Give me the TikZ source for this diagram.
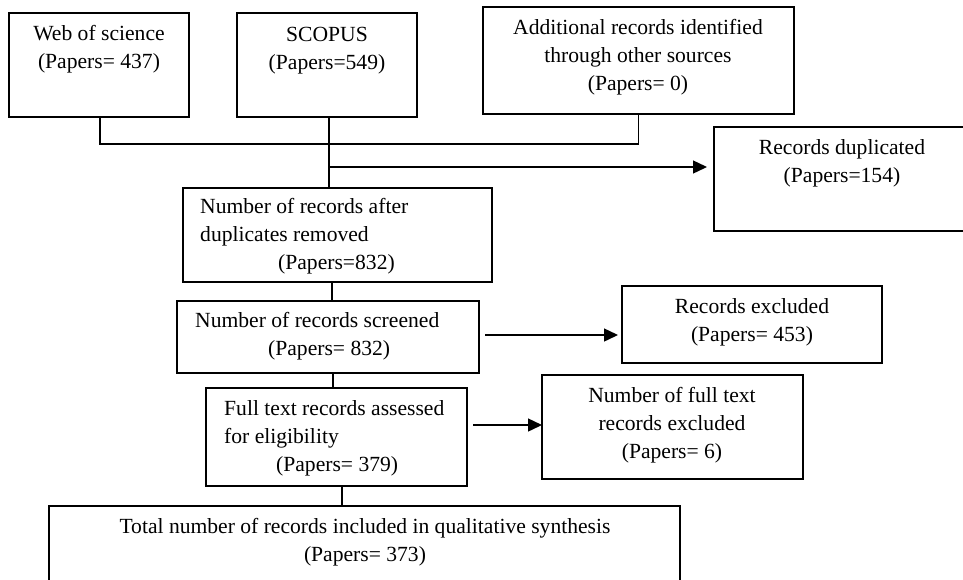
\documentclass[tikz,border=0pt]{standalone}
\usepackage{fontspec}
\setmainfont{Liberation Serif}
\usetikzlibrary{arrows.meta}
\tikzset{
  box/.style={draw, line width=1.4pt, inner sep=0pt, outer sep=0pt},
  txt/.style={inner sep=0pt, font=\fontsize{21.6}{28}\selectfont},
  ctxt/.style={txt, anchor=north, align=center},
  ltxt/.style={txt, anchor=north west, align=left},
  link/.style={line width=1.4pt},
  arr/.style={line width=1.4pt, -{Triangle[length=14pt,width=13pt]}}
}
\begin{document}
\begin{tikzpicture}[x=1pt,y=-1pt]
\useasboundingbox (0,0) rectangle (963,579);
% boxes
\node[box, minimum width=180pt, minimum height=104pt] (wos) at (99,65) {};
\node[box, minimum width=180pt, minimum height=104pt] (scopus) at (327,65) {};
\node[box, minimum width=311pt, minimum height=107pt] (add) at (638.5,60.5) {};
\node[box, minimum width=300pt, minimum height=104pt] (dup) at (864,179) {};
\node[box, minimum width=309pt, minimum height=94pt] (after) at (337.5,235) {};
\node[box, minimum width=302pt, minimum height=72pt] (screen) at (328,337) {};
\node[box, minimum width=261pt, minimum height=98pt] (full) at (336.5,437) {};
\node[box, minimum width=631pt, minimum height=110pt] (total) at (364.5,561) {};
\node[box, minimum width=260pt, minimum height=77pt] (excl) at (752,324.5) {};
\node[box, minimum width=261pt, minimum height=104pt] (fullex) at (672.5,427) {};
% texts
\node[ctxt] (twos) at (99,20.4) {\strut Web of science\\(Papers= 437)};
\node[ctxt] (tscopus) at (327,21.9) {\strut SCOPUS\\(Papers=549)};
\node[ctxt] (tadd) at (638,14.4) {\strut Additional records identified\\through other sources\\(Papers= 0)};
\node[ctxt] (tdup) at (842,134.4) {\strut Records duplicated\\(Papers=154)};
\node[ltxt] (tafter) at (200,193.4) {\strut Number of records after\\duplicates removed\\\hspace*{78pt}(Papers=832)};
\node[ltxt] (tscreen) at (195,307.4) {\strut Number of records screened\\\hspace*{73pt}(Papers= 832)};
\node[ltxt] (tfull) at (224,395.4) {\strut Full text records assessed\\for eligibility\\\hspace*{52pt}(Papers= 379)};
\node[ctxt] (texcl) at (752,293.4) {\strut Records excluded\\(Papers= 453)};
\node[ctxt] (tfullex) at (672,382.4) {\strut Number of full text\\records excluded\\(Papers= 6)};
\node[ctxt] (ttotal) at (365,513.4) {\strut Total number of records included in qualitative synthesis\\(Papers= 373)};
% connectors
\coordinate (mergeY) at (0,144);
\coordinate (dupY) at (0,167);
\draw[link] ([xshift=1pt]wos.south) -- ([xshift=1pt]wos.south |- mergeY) -- (add.south |- mergeY) -- (add.south);
\draw[link] ([xshift=2pt]scopus.south) -- ([xshift=2pt]scopus.south |- after.north);
\draw[arr, shorten >=7pt] ([xshift=2pt]scopus.south |- dupY) -- (dup.west |- dupY);
\draw[link] ([xshift=4pt]screen.north) -- ([xshift=4pt]screen.north |- after.south);
\draw[link] ([xshift=5pt]screen.south) -- ([xshift=5pt]screen.south |- full.north);
\draw[link] ([xshift=5.5pt]full.south) -- ([xshift=5.5pt]full.south |- total.north);
\draw[arr, shorten >=4pt] ([shift={(6pt,2pt)}]screen.east) -- ([yshift=2pt]screen.east -| excl.west);
\draw[arr] ([shift={(6pt,12pt)}]full.east) -- ([yshift=12pt]full.east -| fullex.west);
\end{tikzpicture}
\end{document}
